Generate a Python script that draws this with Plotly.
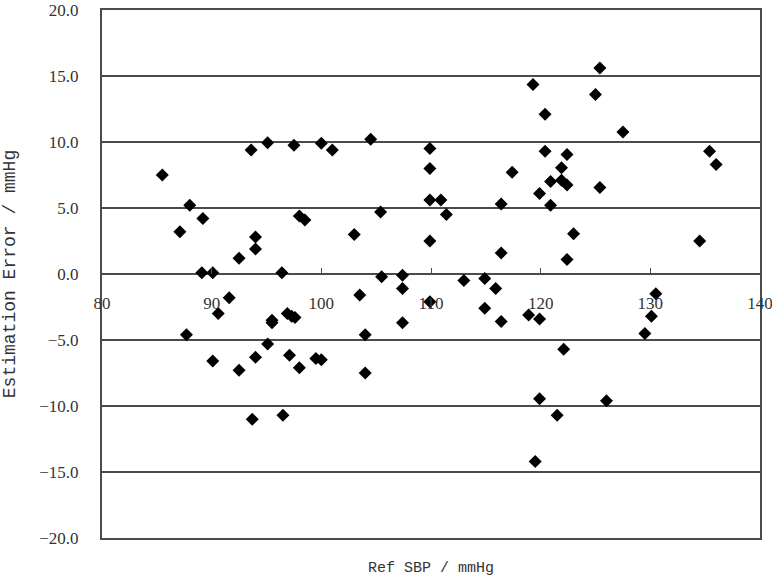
import plotly.graph_objects as go

ref_sbp = [85.5, 87.1, 87.7, 88.0, 89.1, 89.2, 90.1, 90.1, 90.6, 91.6, 92.5, 92.5, 93.6, 93.7,
           94.0, 94.0, 94.0, 95.1, 95.1, 95.5, 95.5, 96.4, 96.5, 96.9, 97.1, 97.3, 97.5, 97.6,
           98.0, 98.0, 98.5, 99.5, 100.0, 100.0, 101.0, 103.0, 103.5, 104.0, 104.0, 104.5,
           105.4, 105.5, 107.4, 107.4, 107.4, 109.9, 109.9, 109.9, 109.9, 109.9, 110.9, 111.4,
           113.0, 114.9, 114.9, 115.9, 116.4, 116.4, 116.4, 117.4, 118.9, 119.3, 119.5, 119.9,
           119.9, 119.9, 120.4, 120.4, 120.9, 120.9, 121.5, 121.9, 121.9, 122.1, 122.4, 122.4,
           122.4, 123.0, 125.0, 125.4, 125.4, 126.0, 127.5, 129.5, 130.1, 130.5, 134.5, 135.4,
           136.0]
est_error = [7.5, 3.2, -4.6, 5.2, 0.1, 4.2, 0.1, -6.6, -3.0, -1.8, 1.2, -7.3, 9.4, -11.0,
             2.8, 1.9, -6.3, 9.95, -5.3, -3.5, -3.7, 0.1, -10.7, -3.0, -6.15, -3.2, 9.75, -3.3,
             4.4, -7.1, 4.1, -6.4, 9.9, -6.5, 9.4, 3.0, -1.6, -4.6, -7.5, 10.2,
             4.7, -0.2, -0.1, -1.1, -3.7, 9.5, 8.0, 5.6, 2.5, -2.1, 5.6, 4.5,
             -0.5, -0.35, -2.6, -1.1, 5.3, 1.6, -3.6, 7.7, -3.1, 14.35, -14.2, 6.1,
             -3.4, -9.45, 12.1, 9.3, 7.0, 5.2, -10.7, 8.05, 7.1, -5.7, 9.05, 6.75,
             1.1, 3.05, 13.6, 15.6, 6.55, -9.6, 10.75, -4.5, -3.2, -1.5, 2.5, 9.3,
             8.3]

x_range = [80, 140]
y_range = [-20, 20]
x_title = "Ref SBP / mmHg"
y_title = "Estimation Error / mmHg"

line_col = "#4a4a52"
serif = "Liberation Serif, DejaVu Serif, serif"
mono = "Liberation Mono, DejaVu Sans Mono, monospace"

fig = go.Figure()
fig.add_trace(go.Scatter(
    x=ref_sbp, y=est_error, mode="markers",
    marker=dict(symbol="diamond", size=10, color="black"),
    showlegend=False, xaxis="x", yaxis="y",
))

fig.update_layout(
    width=772, height=581,
    margin=dict(l=102, r=12, t=10, b=43),
    paper_bgcolor="white", plot_bgcolor="white",
    xaxis=dict(
        range=x_range, showticklabels=False, ticks="", showgrid=False, zeroline=False,
        showline=True, mirror=True, linecolor=line_col, linewidth=2, automargin=False,
        title=dict(text=x_title, font=dict(family=mono, size=15, color="#333"), standoff=22),
    ),
    xaxis2=dict(
        overlaying="x", anchor="free", position=0.5, side="bottom",
        range=x_range, dtick=10, tick0=80, showgrid=False, zeroline=False, automargin=False,
        showline=False, ticks="inside", ticklen=6, tickcolor=line_col, tickwidth=1,
        ticklabeloverflow="allow",
        tickfont=dict(family=serif, size=17, color="#333"), ticklabelstandoff=17,
    ),
    yaxis=dict(
        range=y_range, dtick=5, tick0=-20, tickformat=".1f", automargin=False,
        showgrid=True, gridcolor=line_col, gridwidth=1.5,
        zeroline=True, zerolinecolor=line_col, zerolinewidth=1.5,
        showline=True, mirror=True, linecolor=line_col, linewidth=2, ticks="",
        tickfont=dict(family=serif, size=17, color="#333"), ticklabelstandoff=18,
        title=dict(text=y_title, font=dict(family=mono, size=18, color="#333"), standoff=28),
    ),
)
# invisible placeholder so the zero-crossing tick axis is rendered
fig.add_trace(go.Scatter(x=[None], y=[None], xaxis="x2", yaxis="y", showlegend=False,
                         hoverinfo="skip"))

fig.write_html("out.html")
